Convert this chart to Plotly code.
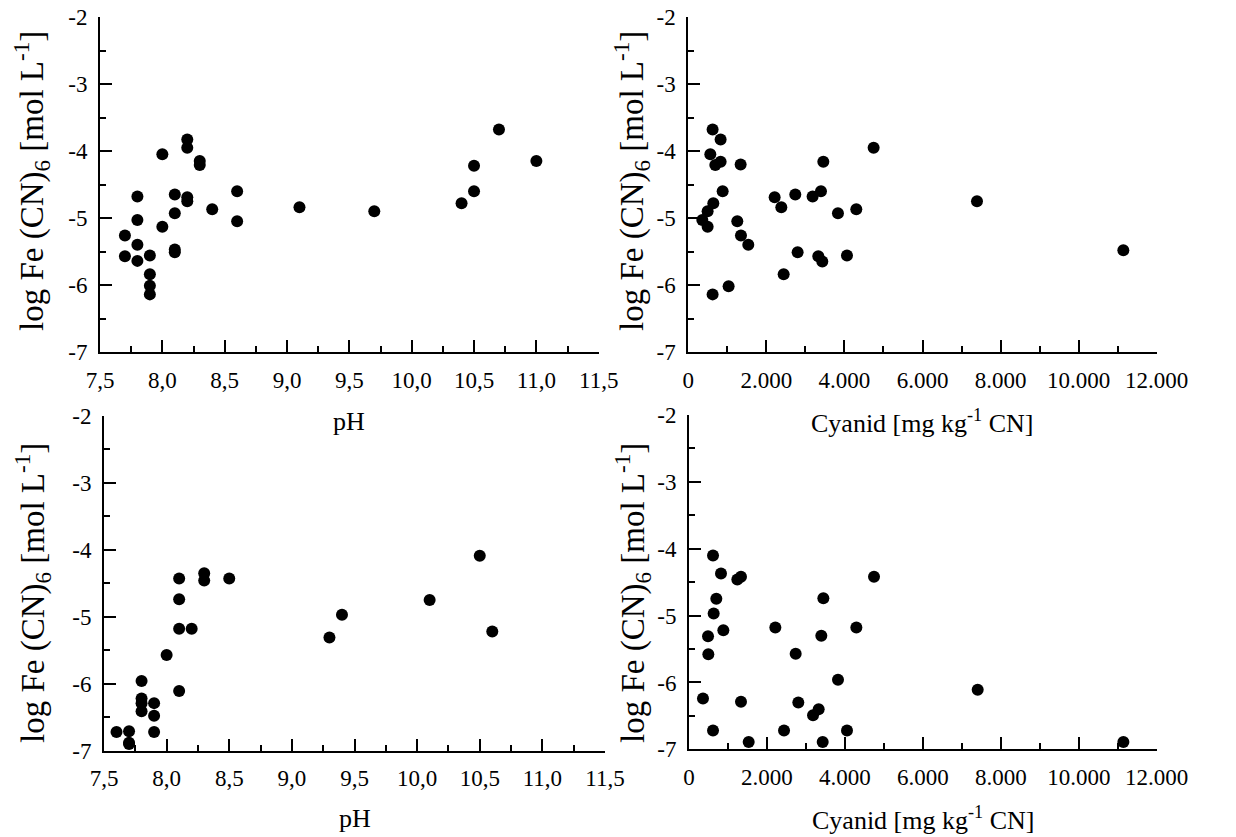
import plotly.graph_objects as go

W, H = 1236, 837

# ---- data ----
ph_top = [7.70, 7.70, 7.80, 7.80, 7.80, 7.80, 7.90, 7.90, 7.90, 7.90, 8.00, 8.00,
          8.10, 8.10, 8.10, 8.10, 8.20, 8.20, 8.20, 8.20, 8.30, 8.30, 8.40, 8.60,
          8.60, 9.10, 9.70, 10.40, 10.50, 10.50, 10.70, 11.00]
fe_ph_top = [-5.26, -5.57, -4.68, -5.03, -5.40, -5.64, -5.56, -5.84, -6.01, -6.14, -4.05, -5.13,
             -4.65, -4.93, -5.47, -5.51, -3.83, -3.95, -4.69, -4.75, -4.15, -4.21, -4.87, -4.60,
             -5.05, -4.84, -4.90, -4.78, -4.22, -4.60, -3.68, -4.15]

cn_top = [359, 495, 495, 564, 623, 623, 641, 692, 828, 828, 880, 1033, 1255, 1341, 1349, 1537,
          2212, 2383, 2443, 2741, 2801, 3185, 3331, 3399, 3433, 3459, 3834, 4065, 4304, 4748,
          7396, 11145]
fe_cn_top = [-5.03, -5.13, -4.90, -4.05, -3.68, -6.14, -4.78, -4.21, -3.83, -4.16, -4.60, -6.02,
             -5.05, -4.20, -5.26, -5.40, -4.69, -4.84, -5.84, -4.65, -5.51, -4.68, -5.57, -4.60,
             -5.65, -4.16, -4.93, -5.56, -4.87, -3.95, -4.75, -5.48]

ph_bot = [7.60, 7.70, 7.70, 7.70, 7.80, 7.80, 7.80, 7.80, 7.90, 7.90, 7.90, 8.00, 8.10,
          8.10, 8.10, 8.10, 8.20, 8.30, 8.30, 8.50, 9.30, 9.40, 10.10, 10.50, 10.60]
fe_ph_bot = [-6.72, -6.71, -6.88, -6.90, -5.96, -6.22, -6.29, -6.41, -6.29, -6.48, -6.72, -5.57, -4.43,
             -4.74, -5.18, -6.11, -5.18, -4.35, -4.46, -4.43, -5.31, -4.97, -4.75, -4.09, -5.22]

cn_bot = [359, 488, 496, 616, 616, 633, 701, 821, 881, 1240, 1334, 1334, 1531, 2215, 2438,
          2737, 2805, 3182, 3327, 3395, 3430, 3447, 3823, 4054, 4294, 4747, 7407, 11145]
fe_cn_bot = [-6.24, -5.31, -5.58, -4.10, -6.72, -4.97, -4.75, -4.37, -5.22, -4.46, -4.42, -6.29,
             -6.89, -5.18, -6.72, -5.57, -6.30, -6.49, -6.40, -5.30, -6.89, -4.74, -5.96, -6.72,
             -5.18, -4.42, -6.11, -6.89]

ph_tickvals = [7.5, 8.0, 8.5, 9.0, 9.5, 10.0, 10.5, 11.0, 11.5]
ph_ticktext = ["7,5", "8,0", "8,5", "9,0", "9,5", "10,0", "10,5", "11,0", "11,5"]
cn_tickvals = [0, 2000, 4000, 6000, 8000, 10000, 12000]
cn_ticktext = ["0", "2.000", "4.000", "6.000", "8.000", "10.000", "12.000"]
y_tickvals = [-7, -6, -5, -4, -3, -2]
y_ticktext = ["-7", "-6", "-5", "-4", "-3", "-2"]

y_title = "log Fe (CN)<sub>6</sub> [mol L<sup>-1</sup>]"
x_title_ph = "pH"
x_title_cn = "Cyanid [mg kg<sup>-1</sup> CN]"

FONT = "Liberation Serif, Times New Roman, serif"


def px(x):
    return x / W


def py(y):
    return 1 - y / H


# panel pixel boxes in screen px: (x0, x1, ytop, ybottom)
boxes = [
    (100, 598.7, 17, 352),
    (688.3, 1156.7, 17, 352),
    (104, 605, 415.7, 750.7),
    (689, 1156.7, 415, 749.3),
]

panels = [
    (ph_top, fe_ph_top, "ph"),
    (cn_top, fe_cn_top, "cn"),
    (ph_bot, fe_ph_bot, "ph"),
    (cn_bot, fe_cn_bot, "cn"),
]

fig = go.Figure()
layout = dict(
    template="none",
    width=W, height=H,
    margin=dict(l=0, r=0, t=0, b=0, pad=0, autoexpand=False),
    paper_bgcolor="white", plot_bgcolor="white",
    showlegend=False,
    font=dict(family=FONT, size=22, color="black"),
)

annotations = []
for i, ((xs, ys, kind), (x0, x1, yt, yb)) in enumerate(zip(panels, boxes), start=1):
    xa = "x" if i == 1 else f"x{i}"
    ya = "y" if i == 1 else f"y{i}"
    fig.add_trace(go.Scatter(
        x=xs, y=ys, mode="markers", xaxis=xa, yaxis=ya,
        marker=dict(color="black", size=12, line=dict(width=0)),
        cliponaxis=False,
    ))
    if kind == "ph":
        xr = [ph_tickvals[0], ph_tickvals[-1]]
        tv, tt = ph_tickvals, ph_ticktext
        mdt, mt0 = 0.25, 7.5
        xt = x_title_ph
    else:
        xr = [cn_tickvals[0], cn_tickvals[-1]]
        tv, tt = cn_tickvals, cn_ticktext
        mdt, mt0 = 1000, 0
        xt = x_title_cn
    xkey = "xaxis" if i == 1 else f"xaxis{i}"
    ykey = "yaxis" if i == 1 else f"yaxis{i}"
    layout[xkey] = dict(
        domain=[px(x0), px(x1)], anchor=ya, range=xr, automargin=False,
        showline=True, linecolor="black", linewidth=2,
        showgrid=False, zeroline=False, mirror=False,
        ticks="inside", ticklen=12, tickwidth=1.5, tickcolor="black",
        tickmode="array", tickvals=tv, ticktext=tt,
        ticklabelstandoff=6, ticklabeloverflow="allow",
        minor=dict(ticks="inside", ticklen=6, tickwidth=1.5, tickcolor="black",
                   tickmode="linear", tick0=mt0, dtick=mdt, showgrid=False),
        tickfont=dict(family=FONT, size=23, color="black"),
    )
    layout[ykey] = dict(
        domain=[py(yb), py(yt)], anchor=xa, range=[-7, -2], automargin=False,
        showline=True, linecolor="black", linewidth=2,
        showgrid=False, zeroline=False, mirror=False,
        ticks="inside", ticklen=12, tickwidth=1.5, tickcolor="black",
        tickmode="array", tickvals=y_tickvals, ticktext=y_ticktext,
        ticklabelstandoff=6, ticklabeloverflow="allow",
        minor=dict(ticks="inside", ticklen=6, tickwidth=1.5, tickcolor="black",
                   tickmode="linear", tick0=-7, dtick=0.5, showgrid=False),
        tickfont=dict(family=FONT, size=23, color="black"),
    )
    # x title
    xt_y = 422 if i <= 2 else 818
    annotations.append(dict(
        text=xt, xref="paper", yref="paper",
        x=px((x0 + x1) / 2), y=py(xt_y),
        xanchor="center", yanchor="middle", showarrow=False,
        font=dict(family=FONT, size=26, color="black"),
    ))
    # y title
    yx = 32 if i in (1, 3) else 632
    yy = 181 if i <= 2 else 593
    annotations.append(dict(
        text=y_title, xref="paper", yref="paper",
        x=px(yx), y=py(yy), textangle=-90,
        xanchor="center", yanchor="middle", showarrow=False,
        font=dict(family=FONT, size=33, color="black"),
    ))

layout["annotations"] = annotations
fig.update_layout(**layout)
fig.write_html(
    "out.html",
    config={"displayModeBar": False},
    post_script="document.body.style.margin='0';document.body.style.overflow='hidden';",
)
